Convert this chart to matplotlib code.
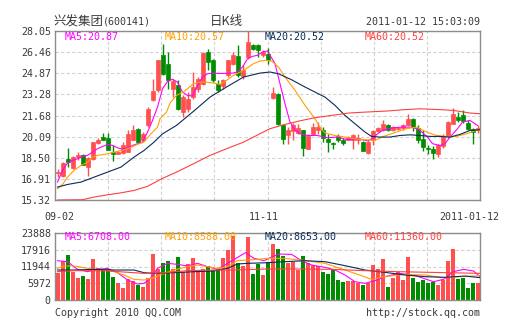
import numpy as np
import matplotlib
matplotlib.use("Agg")
from matplotlib import pyplot as plt

# daily k-line, 85 sessions from 2010-09-02 to 2011-01-12
opens = [17.36, 17.15, 18.38, 17.75, 18.53, 18.73, 17.80, 18.40, 19.63, 20.06,
         19.98, 18.90, 18.80, 18.85, 18.93, 19.86, 20.64, 19.81, 20.94, 22.82,
         23.58, 26.22, 25.59, 23.70, 23.95, 21.94, 22.19, 23.07, 23.70, 24.08,
         26.47, 25.84, 24.08, 23.88, 24.71, 25.59, 26.14, 24.63, 26.09, 26.97,
         26.97, 26.22, 26.34, 23.00, 23.33, 20.94, 20.18, 20.51, 20.36, 20.56,
         19.18, 20.26, 20.56, 20.56, 19.93, 19.61, 20.11, 19.81, 19.86, 19.81,
         19.81, 19.68, 18.85, 19.81, 20.51, 20.61, 20.99, 20.61, 20.64, 20.76,
         20.94, 21.44, 20.76, 19.93, 19.25, 19.18, 18.80, 19.36, 20.11, 21.06,
         21.57, 21.69, 21.11, 20.64, 20.56]
highs = [17.62, 18.15, 19.23, 18.60, 18.93, 18.75, 18.55, 19.68, 19.98, 20.38,
         20.36, 19.43, 18.98, 19.68, 20.61, 20.99, 20.74, 20.44, 22.32, 24.46,
         25.89, 27.10, 26.47, 24.46, 24.33, 23.20, 23.45, 24.96, 24.58, 26.47,
         26.72, 25.96, 24.33, 24.46, 25.89, 26.47, 27.00, 25.46, 28.05, 27.10,
         27.05, 26.59, 26.80, 23.85, 23.38, 21.06, 20.81, 21.11, 21.06, 20.61,
         20.31, 21.11, 21.20, 20.81, 20.31, 19.68, 20.26, 20.01, 20.11, 20.31,
         20.31, 19.73, 19.81, 20.56, 20.81, 21.36, 21.06, 20.86, 20.81, 21.01,
         21.82, 21.52, 20.94, 20.56, 19.43, 19.36, 19.56, 20.26, 21.26, 22.27,
         21.94, 22.12, 21.31, 20.76, 20.94]
lows = [17.08, 17.05, 17.80, 17.67, 18.30, 17.92, 17.12, 18.35, 19.56, 19.81,
        19.05, 18.25, 18.78, 18.75, 18.93, 19.81, 19.61, 19.73, 20.81, 22.77,
        23.45, 24.71, 23.70, 23.07, 22.07, 21.57, 21.94, 22.95, 23.45, 23.95,
        25.08, 24.20, 23.45, 23.70, 24.58, 25.46, 24.58, 24.46, 25.96, 26.64,
        26.09, 26.09, 25.59, 22.95, 20.94, 19.56, 19.56, 19.81, 20.31, 18.60,
        19.13, 20.18, 20.26, 19.68, 18.93, 19.18, 19.68, 19.43, 19.81, 19.18,
        19.56, 19.00, 18.80, 19.43, 20.44, 20.51, 20.51, 20.51, 20.56, 20.61,
        20.86, 20.51, 19.61, 19.00, 18.75, 18.38, 18.55, 19.25, 20.01, 21.01,
        21.19, 21.11, 20.56, 19.51, 20.40]
closes = [17.42, 18.10, 18.17, 18.53, 18.73, 17.93, 18.45, 19.66, 19.86, 19.86,
          19.10, 18.80, 18.90, 19.43, 20.26, 20.56, 19.68, 20.31, 22.19, 23.50,
          25.84, 24.83, 24.38, 24.28, 22.19, 23.07, 22.95, 23.83, 24.46, 26.39,
          25.71, 24.33, 23.58, 24.33, 25.84, 26.22, 24.76, 25.08, 27.22, 26.72,
          26.64, 26.47, 25.84, 23.38, 21.06, 19.93, 20.56, 20.94, 20.76, 19.25,
          20.11, 20.81, 20.81, 20.01, 19.68, 19.51, 19.81, 19.61, 20.06, 20.18,
          20.01, 19.00, 19.68, 20.51, 20.74, 21.01, 20.56, 20.81, 20.74, 20.94,
          21.44, 20.81, 19.81, 19.30, 19.15, 18.85, 19.43, 20.06, 21.19, 21.77,
          21.37, 21.27, 20.69, 20.44, 20.71]
volumes = [9500, 14000, 16040, 10100, 7960, 8550, 7480, 14610, 11290, 10930,
           10930, 8320, 6180, 4400, 7370, 6890, 5350, 4750, 7720, 16400,
           11050, 13300, 13900, 11050, 15330, 10100, 12830, 14970, 10100, 11050,
           12120, 10690, 10930, 15000, 17800, 22700, 13070, 12000, 22570, 9300,
           12800, 8900, 13500, 19960, 18180, 15680, 13300, 13660, 10690, 15680,
           13070, 12470, 12000, 10100, 9150, 10690, 7130, 6500, 6770, 6770,
           5940, 5350, 5900, 12470, 11000, 14490, 4750, 8000, 10000, 7000,
           15200, 8000, 6500, 7000, 6000, 6500, 5500, 7000, 13800, 18200,
           7370, 7960, 4160, 6180, 5940]

# moving averages: session index -> value
ma5_idx = [0, 1, 2, 3, 4, 5, 6, 7, 8, 9, 10, 11, 12, 13, 14, 15, 16, 17, 18, 19,
           20, 21, 22, 23, 24, 25, 26, 27, 28, 29, 30, 31, 33, 35, 36, 37, 38, 39,
           40, 41, 42, 43.5, 44.5, 45.5, 46.5, 47.5, 48.5, 50, 52, 54, 56, 58, 60,
           62, 63, 64, 65, 67, 69, 71, 72.5, 74, 75, 76.5, 77.5, 78.5, 80, 81,
           82.5, 84]
ma5_val = [16.67, 17.55, 18.10, 18.30, 18.43, 18.60, 18.68, 18.93, 19.18, 19.35,
           19.50, 19.43, 19.25, 19.15, 19.25, 19.43, 19.56, 19.68, 20.43, 21.31,
           22.32, 23.70, 24.25, 24.42, 24.20, 23.45, 23.20, 23.15, 23.95, 24.58,
           24.83, 24.86, 24.85, 24.88, 24.96, 25.34, 25.96, 26.14, 26.22, 26.47,
           26.55, 25.59, 24.08, 22.57, 21.19, 20.61, 20.31, 20.18, 20.18, 20.01,
           20.06, 19.86, 19.93, 19.78, 19.95, 20.30, 20.56, 20.76, 20.81, 20.81,
           20.56, 20.06, 19.56, 19.43, 19.56, 20.06, 20.69, 21.19, 21.31, 20.94]
ma10_idx = [0, 1, 2, 3.3, 4.7, 6, 7, 8, 10, 12, 14, 16, 17.3, 18.7, 20, 20.5,
            21.8, 22.5, 23.8, 25.2, 27.2, 28.5, 29.8, 31.2, 32.5, 33.8, 35.2,
            37.2, 39.2, 40.5, 41.8, 42.8, 44.2, 45.5, 47.5, 49.5, 51.5, 52.5,
            53.5, 55.5, 57.5, 59.5, 61.5, 63.5, 65.2, 67.8, 69.8, 71.8, 73.8,
            75.8, 77.8, 79.8, 81.8, 83.8, 84.5]
ma10_val = [16.17, 16.49, 17.04, 17.55, 17.92, 18.17, 18.55, 18.68, 18.80, 18.98,
            19.18, 19.51, 19.68, 20.31, 20.81, 21.44, 21.94, 22.62, 23.20, 23.45,
            24.08, 24.20, 24.20, 24.13, 24.03, 24.33, 24.71, 25.08, 25.59, 25.79,
            25.84, 25.79, 25.34, 24.58, 23.58, 22.45, 21.44, 20.81, 20.36, 20.18,
            20.06, 19.93, 19.86, 19.81, 20.11, 20.44, 20.69, 20.81, 20.44, 20.18,
            20.11, 20.11, 20.31, 20.56, 20.57]
ma20_idx = [0, 2, 4.7, 7.3, 10, 12.7, 15.3, 17.3, 19.3, 21, 23.8, 27.2, 30.5,
            33.8, 37.2, 40.5, 42.5, 44.2, 46.8, 49.5, 51.5, 53.5, 55.5, 57.5,
            59.5, 61.5, 62.8, 64.5, 66.5, 68.5, 70.5, 72.5, 74.5, 76.5, 78.5,
            80.5, 82.5, 84.5]
ma20_val = [16.29, 16.49, 16.67, 17.04, 17.42, 17.80, 18.55, 19.05, 19.68, 20.30,
            20.94, 22.00, 23.07, 23.83, 24.58, 24.88, 24.96, 24.83, 24.38, 23.83,
            23.45, 23.07, 22.45, 21.69, 21.06, 20.44, 20.11, 20.06, 20.06, 20.18,
            20.23, 20.18, 20.11, 20.11, 20.06, 20.26, 20.56, 20.61]
ma60_idx = [0, 5, 7.3, 10, 12.7, 15.3, 18, 21, 23.8, 27.2, 30.5, 33.8, 37.2,
            40.5, 42.5, 44.8, 48.2, 51.5, 54.8, 58.2, 61.5, 65.8, 69.2, 72.5,
            75.8, 79.2, 82.5, 84.5]
ma60_val = [15.32, 15.34, 15.54, 15.71, 15.86, 16.04, 16.35, 16.95, 17.42, 18.05,
            18.68, 19.18, 19.68, 20.31, 20.69, 20.94, 21.26, 21.52, 21.69, 21.87,
            21.94, 22.02, 22.12, 22.19, 22.14, 22.07, 21.87, 21.82]

vma5_idx = [0, 2, 4, 6, 8, 10, 12, 14, 16, 17.3, 18.6, 20, 22, 24, 26, 28, 30,
            32, 34, 36, 37.6, 39.3, 41.3, 44.2, 46.8, 48.8, 50.8, 53.5, 55.5,
            57.5, 59.5, 61.5, 63.5, 65.5, 68.2, 71.2, 73.2, 75.2, 77.2, 79.2,
            81.2, 83.2, 84.5]
vma5_val = [14000, 13660, 10930, 10100, 10930, 11290, 9740, 7130, 5700, 5940,
            7720, 11290, 13070, 12710, 12120, 13070, 11880, 10930, 13070, 15200,
            16870, 14850, 14020, 16390, 16270, 14020, 12470, 11640, 10690, 8910,
            6530, 5940, 6890, 8320, 9500, 8910, 7720, 6530, 7370, 10100, 10930,
            10340, 8320]
vma10_idx = [0, 1.3, 3.3, 5.3, 7.3, 9.3, 11.3, 13.3, 15.3, 17.3, 19.3, 21.3,
             23.3, 26, 28, 30, 32, 34, 36, 38, 40, 42, 45.5, 49.5, 53.5, 57.5,
             60.8, 62.8, 65.5, 69.5, 73.5, 77.2, 80.7, 84.5]
vma10_val = [11290, 12120, 12120, 11520, 10930, 10930, 10100, 8910, 7370, 7130,
             7960, 9500, 10690, 11880, 12470, 11880, 11290, 11880, 14020, 14260,
             14490, 14850, 14850, 14020, 13070, 10690, 8670, 7370, 8320, 9150,
             8910, 7960, 8320, 8670]
vma20_idx = [0, 3.3, 7.3, 11.3, 15.3, 17.3, 19.3, 23.3, 27.3, 31.3, 34, 36, 38,
             42, 45.5, 49.5, 53.5, 57.5, 61.5, 65.5, 69.5, 73.5, 77.5, 81.5, 84.5]
vma20_val = [10690, 10690, 10930, 10690, 10690, 9740, 9500, 9740, 10100, 10340,
             11290, 12830, 13070, 13300, 13660, 14020, 13660, 12240, 10690, 9860,
             8910, 8320, 8080, 8550, 7960]
vma60_idx = [0, 3.3, 9.3, 17.3, 21.3, 26, 31.3, 35.3, 42, 48, 55, 61.5, 68,
             74.5, 84.5]
vma60_val = [10100, 10450, 10450, 9500, 9740, 10450, 10690, 10690, 11050, 11050,
             10930, 10450, 10100, 9860, 9500]

price_ticks = [15.32, 16.91, 18.50, 20.09, 21.68, 23.28, 24.87, 26.46, 28.05]
price_labels = ['15.32', '16.91', '18.50', '20.09', '21.68', '23.28', '24.87',
                '26.46', '28.05']
vol_ticks = [0, 5972, 11944, 17916, 23888]
date_labels = ['09-02', '11-11', '2011-01-12']

RED = '#ff4f4f'
GREEN = '#008c00'
MA_COLORS = ['#ff00ff', '#ffa000', '#0a2c5a', '#ff4040']
MONO = 'DejaVu Sans Mono'
TEXT = '#3a3a3a'
W, H = 505, 330


def px(x, y):
    """pixel position (top-left origin) -> figure fraction"""
    return x / W, 1 - y / H


def style_panel(ax):
    for s in ax.spines.values():
        s.set_color('#8c8c8c')
        s.set_linewidth(1.0)
    ax.set_xlim(-0.5, len(closes) - 0.5)
    ax.set_xticks(np.linspace(-0.5, len(closes) - 0.5, 9)[1:-1])
    ax.set_xticklabels([])
    ax.tick_params(length=0, pad=3, labelsize=7.2, colors=TEXT)
    for lab in ax.get_yticklabels():
        lab.set_family(MONO)
    ax.grid(True, color='#d2d2d2', linestyle=(0, (3, 2)), linewidth=0.8)
    ax.set_axisbelow(True)


fig = plt.figure(figsize=(W / 100, H / 100), dpi=100)
ax = fig.add_axes([55 / W, 1 - 200 / H, 425 / W, 169 / H])
axv = fig.add_axes([55 / W, 1 - 300 / H, 425 / W, 67 / H])

x = np.arange(len(closes))
o = np.array(opens)
c = np.array(closes)
up = c >= o
colors = np.where(up, RED, GREEN)

# candles
ax.vlines(x, lows, highs, colors=colors, linewidth=1.0, zorder=2)
ax.bar(x, np.abs(c - o), bottom=np.minimum(o, c), width=0.8, color=colors,
       edgecolor=colors, linewidth=0.5, zorder=3)
for (ix, val), col in zip([(ma5_idx, ma5_val), (ma10_idx, ma10_val),
                           (ma20_idx, ma20_val), (ma60_idx, ma60_val)], MA_COLORS):
    ax.plot(ix, val, color=col, linewidth=0.8, zorder=4)
ax.set_ylim(price_ticks[0], price_ticks[-1])
ax.set_yticks(price_ticks)
ax.set_yticklabels(price_labels)
style_panel(ax)

# volume
axv.bar(x, volumes, width=0.8, color=colors, linewidth=0, zorder=2)
for (ix, val), col in zip([(vma5_idx, vma5_val), (vma10_idx, vma10_val),
                           (vma20_idx, vma20_val), (vma60_idx, vma60_val)], MA_COLORS):
    axv.plot(ix, val, color=col, linewidth=0.8, zorder=4)
axv.set_ylim(vol_ticks[0], vol_ticks[-1])
axv.set_yticks(vol_ticks)
axv.set_yticklabels([str(v) for v in vol_ticks])
style_panel(axv)

# header
fig.text(*px(53, 22), '兴发集团', family='Noto Sans CJK SC', fontsize=9,
         color=TEXT, va='center')
fig.text(*px(103, 22), '(600141)', family=MONO, fontsize=7.2,
         color=TEXT, va='center')
fig.text(*px(226, 22), '日K线', family='Noto Sans CJK SC', fontsize=9,
         color=TEXT, va='center', ha='center')
fig.text(*px(480, 22), '2011-01-12 15:03:09', family=MONO, fontsize=7.2,
         color=TEXT, va='center', ha='right')

# MA legends
for xp, txt, col in zip([65, 165, 265, 365],
                        ['MA5:20.87', 'MA10:20.57', 'MA20:20.52', 'MA60:20.52'],
                        MA_COLORS):
    fig.text(*px(xp, 36.5), txt, family=MONO, fontsize=7.2, color=col, va='center')
for xp, txt, col in zip([65, 165, 265, 365],
                        ['MA5:6708.00', 'MA10:8588.00', 'MA20:8653.00', 'MA60:11360.00'],
                        MA_COLORS):
    fig.text(*px(xp, 236.7), txt, family=MONO, fontsize=7.2, color=col, va='center')

# date labels between panels
for xp, txt in zip([59, 263.5, 469], date_labels):
    fig.text(*px(xp, 217), txt, family=MONO, fontsize=7.2, color=TEXT,
             va='center', ha='center')

fig.text(*px(55, 312.5), 'Copyright 2010 QQ.COM', family=MONO, fontsize=7.2,
         color=TEXT, va='center')
fig.text(*px(480, 312.5), 'http://stock.qq.com', family=MONO, fontsize=7.2,
         color=TEXT, va='center', ha='right')

fig.savefig('out.png', dpi=100)
